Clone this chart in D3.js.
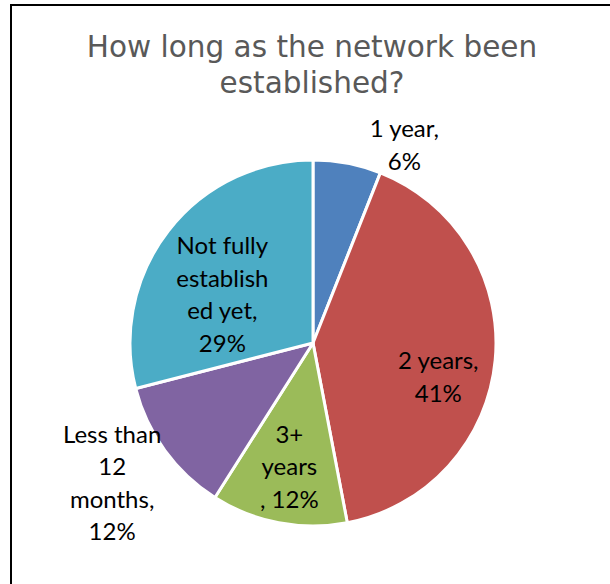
<!DOCTYPE html>
<html>
<head>
<meta charset="utf-8">
<script src="https://cdn.jsdelivr.net/npm/d3@7"></script>
<style>
  body { margin: 0; background: #fff; }
  svg { display: block; }
</style>
</head>
<body>
<div id="chart"></div>
<script>
// data
const categories = ["1 year", "2 years", "3+ years", "Less than 12 months", "Not fully established yet"];
const percents = [6, 41, 12, 12, 29];
const colors = ["#4f81bd", "#c0504d", "#9bbb59", "#8064a2", "#4bacc6"];
// how Excel wrapped each data label
const labelLines = [
  ["1 year,", "6%"],
  ["2 years,", "41%"],
  ["3+", "years", ", 12%"],
  ["Less than", "12", "months,", "12%"],
  ["Not fully", "establish", "ed yet,", "29%"]
];
const titleLines = ["How long as the network been", "established?"];

const width = 610, height = 584;
const cx = 313, cy = 343, radius = 183;

const svg = d3.select("#chart").append("svg")
    .attr("width", width)
    .attr("height", height);

// chart frame (right and bottom edges run past the crop)
svg.append("rect")
    .attr("x", 11).attr("y", 5)
    .attr("width", 800).attr("height", 800)
    .attr("fill", "none")
    .attr("stroke", "#000")
    .attr("stroke-width", 2);

svg.append("text")
    .attr("x", 312).attr("y", 57)
    .attr("text-anchor", "middle")
    .style("font-family", "'DejaVu Sans', Verdana, sans-serif")
    .style("font-size", "29.5px")
    .attr("fill", "#595959")
    .selectAll("tspan").data(titleLines).join("tspan")
      .attr("x", 312)
      .attr("dy", (d, i) => i === 0 ? 0 : 36)
      .text(d => d);

const data = categories.map((c, i) => ({category: c, value: percents[i], lines: labelLines[i], color: colors[i]}));

const pie = d3.pie().value(d => d.value).sort(null);
const arc = d3.arc().innerRadius(0).outerRadius(radius);

const g = svg.append("g").attr("transform", `translate(${cx},${cy})`);
const arcs = pie(data);

g.selectAll("path").data(arcs).join("path")
    .attr("d", arc)
    .attr("fill", d => d.data.color)
    .attr("stroke", "#fff")
    .attr("stroke-width", 3)
    .attr("stroke-linejoin", "round");

// label placement: inside labels on an inner ring, small slices pushed outside
// (radius factor, extra angle nudge in degrees) per slice, mimicking Excel's best fit
const labelLayout = [
  {r: 1.19, nudge: 14},
  {r: 0.71, nudge: 10},
  {r: 0.69, nudge: 0},
  {r: 1.34, nudge: 1},
  {r: 0.56, nudge: -10}
];
const lineH = 32.5;

const labels = g.selectAll("text.lbl").data(arcs).join("text")
    .attr("class", "lbl")
    .attr("text-anchor", "middle")
    .style("font-family", "Lato, Calibri, sans-serif")
    .style("font-size", "24px")
    .attr("fill", "#000")
    .attr("transform", (d, i) => {
      const lay = labelLayout[i];
      const a = (d.startAngle + d.endAngle) / 2 + lay.nudge * Math.PI / 180;
      const rr = radius * lay.r;
      const x = rr * Math.sin(a);
      const y = -rr * Math.cos(a) - (d.data.lines.length - 1) * lineH / 2 + 8;
      return `translate(${x},${y})`;
    });

labels.selectAll("tspan").data(d => d.data.lines).join("tspan")
    .attr("x", 0)
    .attr("dy", (d, i) => i === 0 ? 0 : lineH)
    .text(d => d);
</script>
</body>
</html>
